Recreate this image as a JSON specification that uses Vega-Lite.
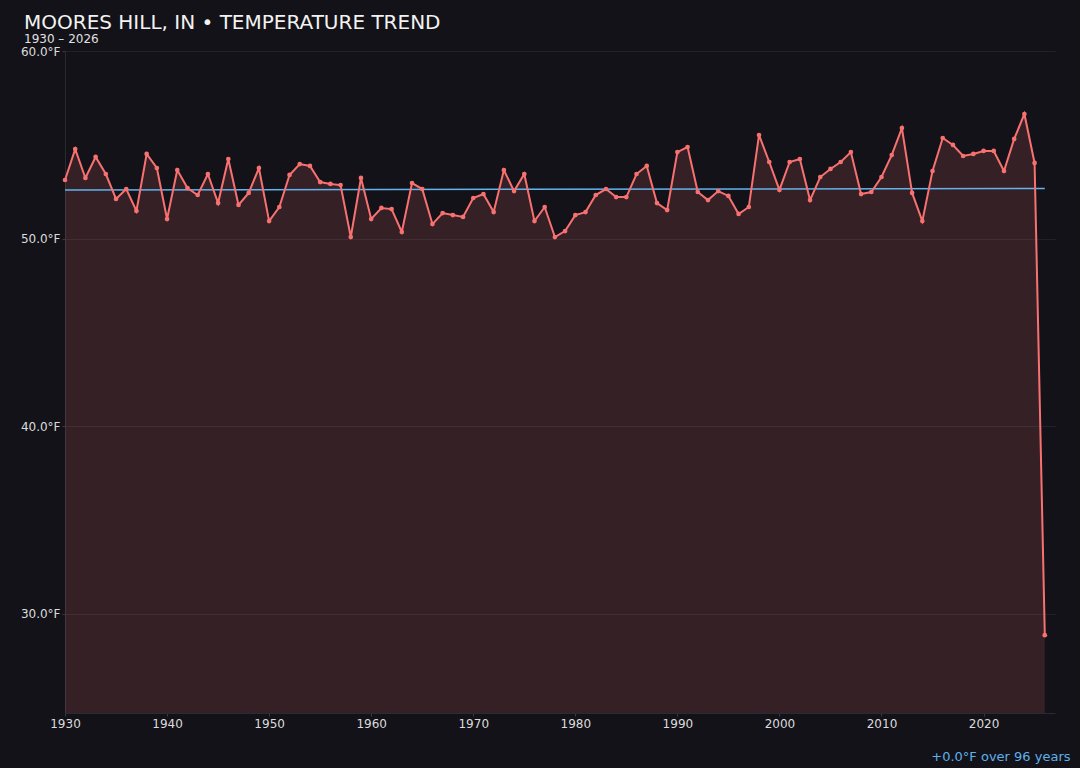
{
  "$schema": "https://vega.github.io/schema/vega-lite/v6.json",
  "width": 990,
  "height": 662,
  "autosize": {"type": "none"},
  "padding": {"left": 65, "top": 51, "right": 25, "bottom": 55},
  "background": "#131218",
  "title": {
    "text": "MOORES HILL, IN • TEMPERATURE TREND",
    "subtitle": "1930 – 2026",
    "anchor": "start",
    "frame": "group",
    "dx": -41,
    "offset": 0,
    "font": "DejaVu Sans",
    "fontSize": 20,
    "fontWeight": "normal",
    "color": "#f2f2f2",
    "subtitleFont": "DejaVu Sans",
    "subtitleFontSize": 12,
    "subtitleColor": "#e0e0e0",
    "subtitlePadding": 1
  },
  "config": {
    "view": {"stroke": null},
    "axis": {
      "labelFont": "DejaVu Sans",
      "labelFontSize": 12,
      "labelColor": "#dcdcdc",
      "labelFlush": false,
      "domainColor": "#2a2a33",
      "tickColor": "#3a3a44",
      "tickSize": 3,
      "labelPadding": 2,
      "gridColor": "#22212a",
      "titleFont": "DejaVu Sans"
    }
  },
  "datasets": {
    "temps": [
      {"year": 1930, "temp": 53.12}, {"year": 1931, "temp": 54.77}, {"year": 1932, "temp": 53.23},
      {"year": 1933, "temp": 54.35}, {"year": 1934, "temp": 53.44}, {"year": 1935, "temp": 52.11},
      {"year": 1936, "temp": 52.64}, {"year": 1937, "temp": 51.47}, {"year": 1938, "temp": 54.51},
      {"year": 1939, "temp": 53.76}, {"year": 1940, "temp": 51.04}, {"year": 1941, "temp": 53.65},
      {"year": 1942, "temp": 52.69}, {"year": 1943, "temp": 52.32}, {"year": 1944, "temp": 53.44},
      {"year": 1945, "temp": 51.89}, {"year": 1946, "temp": 54.24}, {"year": 1947, "temp": 51.79},
      {"year": 1948, "temp": 52.43}, {"year": 1949, "temp": 53.76}, {"year": 1950, "temp": 50.93},
      {"year": 1951, "temp": 51.68}, {"year": 1952, "temp": 53.39}, {"year": 1953, "temp": 53.97},
      {"year": 1954, "temp": 53.87}, {"year": 1955, "temp": 53.01}, {"year": 1956, "temp": 52.91},
      {"year": 1957, "temp": 52.85}, {"year": 1958, "temp": 50.08}, {"year": 1959, "temp": 53.23},
      {"year": 1960, "temp": 51.04}, {"year": 1961, "temp": 51.63}, {"year": 1962, "temp": 51.57},
      {"year": 1963, "temp": 50.35}, {"year": 1964, "temp": 52.96}, {"year": 1965, "temp": 52.64},
      {"year": 1966, "temp": 50.77}, {"year": 1967, "temp": 51.36}, {"year": 1968, "temp": 51.25},
      {"year": 1969, "temp": 51.15}, {"year": 1970, "temp": 52.16}, {"year": 1971, "temp": 52.37},
      {"year": 1972, "temp": 51.41}, {"year": 1973, "temp": 53.65}, {"year": 1974, "temp": 52.53},
      {"year": 1975, "temp": 53.44}, {"year": 1976, "temp": 50.93}, {"year": 1977, "temp": 51.68},
      {"year": 1978, "temp": 50.08}, {"year": 1979, "temp": 50.40}, {"year": 1980, "temp": 51.25},
      {"year": 1981, "temp": 51.41}, {"year": 1982, "temp": 52.32}, {"year": 1983, "temp": 52.64},
      {"year": 1984, "temp": 52.21}, {"year": 1985, "temp": 52.21}, {"year": 1986, "temp": 53.44},
      {"year": 1987, "temp": 53.87}, {"year": 1988, "temp": 51.89}, {"year": 1989, "temp": 51.52},
      {"year": 1990, "temp": 54.61}, {"year": 1991, "temp": 54.88}, {"year": 1992, "temp": 52.48},
      {"year": 1993, "temp": 52.05}, {"year": 1994, "temp": 52.53}, {"year": 1995, "temp": 52.27},
      {"year": 1996, "temp": 51.31}, {"year": 1997, "temp": 51.68}, {"year": 1998, "temp": 55.52},
      {"year": 1999, "temp": 54.08}, {"year": 2000, "temp": 52.59}, {"year": 2001, "temp": 54.08},
      {"year": 2002, "temp": 54.24}, {"year": 2003, "temp": 52.05}, {"year": 2004, "temp": 53.28},
      {"year": 2005, "temp": 53.71}, {"year": 2006, "temp": 54.08}, {"year": 2007, "temp": 54.61},
      {"year": 2008, "temp": 52.37}, {"year": 2009, "temp": 52.48}, {"year": 2010, "temp": 53.28},
      {"year": 2011, "temp": 54.45}, {"year": 2012, "temp": 55.89}, {"year": 2013, "temp": 52.43},
      {"year": 2014, "temp": 50.93}, {"year": 2015, "temp": 53.60}, {"year": 2016, "temp": 55.36},
      {"year": 2017, "temp": 54.99}, {"year": 2018, "temp": 54.40}, {"year": 2019, "temp": 54.51},
      {"year": 2020, "temp": 54.67}, {"year": 2021, "temp": 54.67}, {"year": 2022, "temp": 53.60},
      {"year": 2023, "temp": 55.31}, {"year": 2024, "temp": 56.64}, {"year": 2025, "temp": 54.03},
      {"year": 2026, "temp": 28.85}
    ],
    "trend": [
      {"year": 1930, "temp": 52.59},
      {"year": 2026, "temp": 52.67}
    ]
  },
  "encoding": {
    "x": {
      "field": "year",
      "type": "quantitative",
      "scale": {"domain": [1930, 2027], "nice": false, "zero": false},
      "axis": {
        "values": [1930, 1940, 1950, 1960, 1970, 1980, 1990, 2000, 2010, 2020],
        "format": "d",
        "grid": false,
        "title": "+0.0°F over 96 years",
        "titleColor": "#5fb0ea",
        "titleFontSize": 13,
        "titleFontWeight": "normal",
        "titleAlign": "right",
        "titleAnchor": "end",
        "titleX": 1005,
        "titleY": 47,
        "titleBaseline": "alphabetic"
      }
    },
    "y": {
      "field": "temp",
      "type": "quantitative",
      "scale": {"domain": [24.7, 60], "nice": false, "zero": false},
      "axis": {
        "values": [30, 40, 50, 60],
        "labelExpr": "format(datum.value, '.1f') + '°F'",
        "grid": true,
        "title": null
      }
    }
  },
  "layer": [
    {
      "data": {"name": "temps"},
      "mark": {"type": "area", "color": "#f87171", "opacity": 0.15},
      "encoding": {"y2": {"datum": 24.7}}
    },
    {
      "data": {"name": "trend"},
      "mark": {"type": "line", "color": "#63b3ed", "strokeWidth": 1.5}
    },
    {
      "data": {"name": "temps"},
      "mark": {
        "type": "line",
        "color": "#f87171",
        "strokeWidth": 2,
        "point": {"filled": true, "size": 22, "color": "#f87171", "opacity": 1}
      }
    }
  ]
}
